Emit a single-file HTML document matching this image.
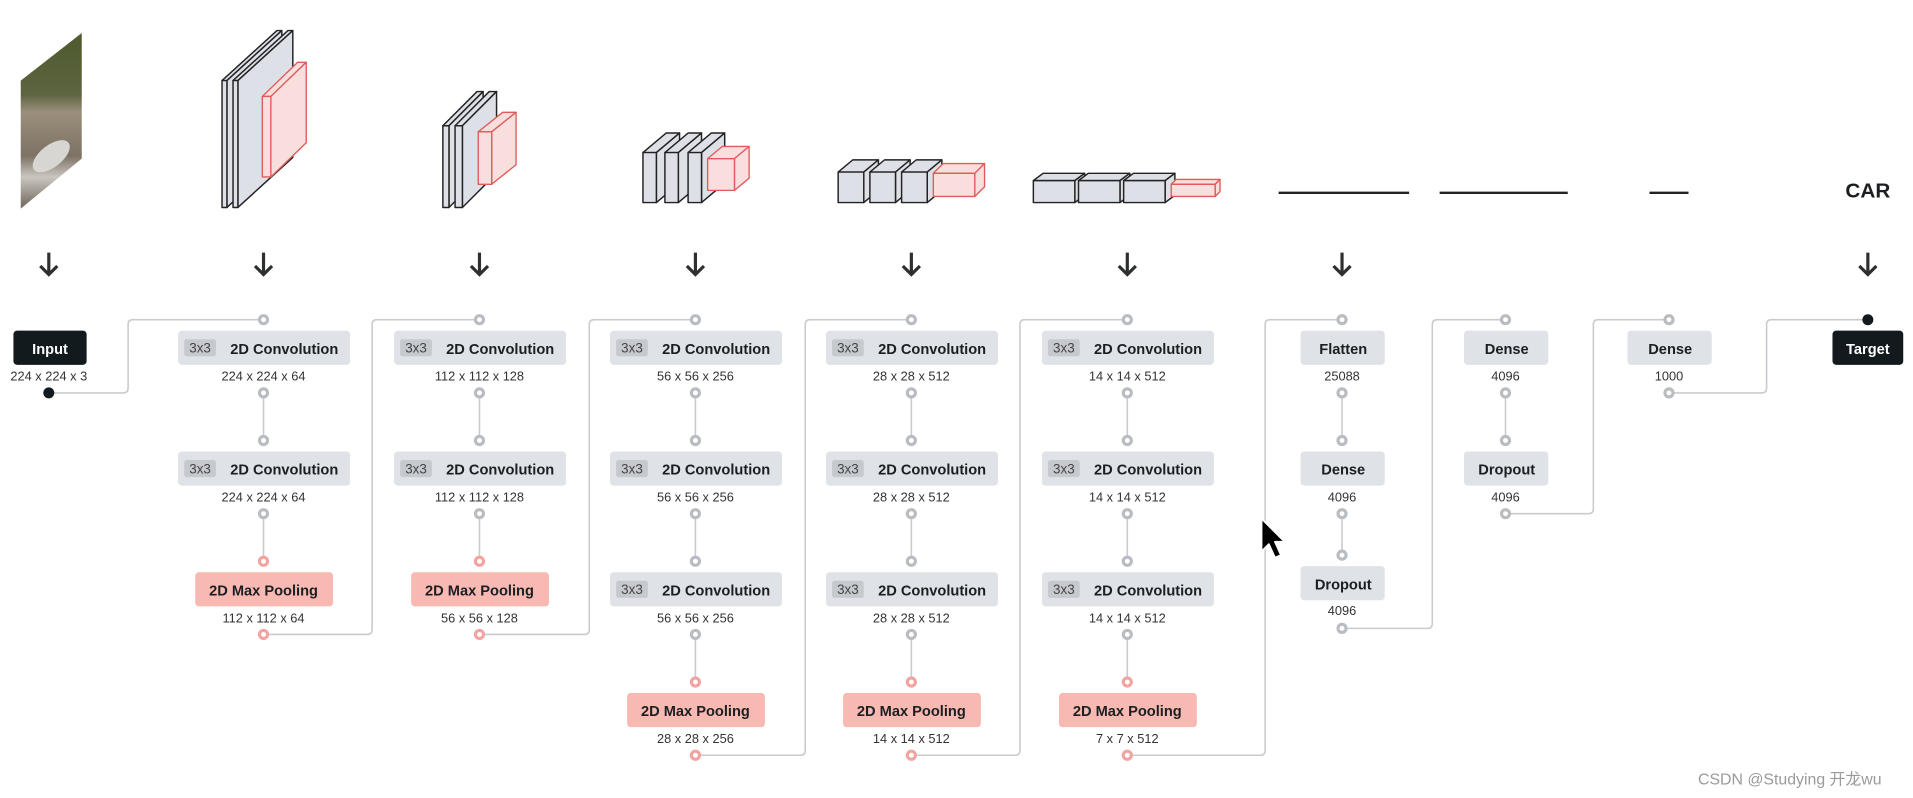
<!DOCTYPE html>
<html><head><meta charset="utf-8"><style>
html,body{margin:0;padding:0;background:#fff;width:1913px;height:798px;overflow:hidden}
svg{display:block}
text{font-family:"Liberation Sans","Noto Sans CJK SC",sans-serif}
.lb{font-size:12px;font-weight:bold;fill:#1b1f22;text-anchor:middle}
.dm{font-size:10.5px;fill:#333;text-anchor:middle}
.tg{font-size:11px;fill:#444;text-anchor:middle}
.cn{fill:none;stroke:#c9cbce;stroke-width:1.3}
.dt{fill:#fff;stroke:#b9bcc0;stroke-width:2.6}
.dp{fill:#fff;stroke:#f3a3a0;stroke-width:2.6}
.g{fill:#dde1e7;stroke:#222;stroke-width:1.2;stroke-linejoin:round}
.r{fill:#f8dedc;stroke:#e05a5a;stroke-width:1.1;stroke-linejoin:round}
.ar{fill:none;stroke:#2d2f31;stroke-width:2.6}
</style></head><body>
<svg width="1913" height="798" viewBox="0 0 1568 654" xmlns="http://www.w3.org/2000/svg">
<defs>
<linearGradient id="img" x1="0" y1="0" x2="0" y2="1">
<stop offset="0" stop-color="#4e5a2e"/><stop offset="0.35" stop-color="#5d6440"/>
<stop offset="0.45" stop-color="#9b8f7c"/><stop offset="0.7" stop-color="#7d7264"/>
<stop offset="0.82" stop-color="#c9c6c0"/><stop offset="1" stop-color="#6e655a"/>
</linearGradient>
</defs>
<!-- input image -->
<polygon points="17,66 67,27 67,130 17,171" fill="url(#img)"/>
<ellipse cx="42" cy="128" rx="18" ry="9" fill="#d8d6d2" transform="rotate(-38 42 128)"/>

<g id="blocks"></g>
<!-- conv1 -->
<g>
<polygon class="g" points="182,66 227,25 231,25 186,66"/><polygon class="g" points="186,66 231,25 231,129 186,170"/><rect class="g" x="182" y="66" width="4" height="104"/>
<polygon class="g" points="191,66 236,25 240,25 195,66"/><polygon class="g" points="195,66 240,25 240,129 195,170"/><rect class="g" x="191" y="66" width="4" height="104"/>
<polygon class="r" points="215,79 244,51 251,51 222,79"/><polygon class="r" points="222,79 251,51 251,117 222,145"/><rect class="r" x="215" y="79" width="7" height="66"/>
</g>
<!-- conv2 -->
<g>
<polygon class="g" points="363,103 391,75 396,75 368,103"/><polygon class="g" points="368,103 396,75 396,142 368,170"/><rect class="g" x="363" y="103" width="5" height="67"/>
<polygon class="g" points="373,103 401,75 407,75 379,103"/><polygon class="g" points="379,103 407,75 407,142 379,170"/><rect class="g" x="373" y="103" width="6" height="67"/>
<polygon class="r" points="392,108 412,92 423,92 403,108"/><polygon class="r" points="403,108 423,92 423,135 403,151"/><rect class="r" x="392" y="108" width="11" height="43"/>
</g>
<!-- conv3 -->
<g>
<polygon class="g" points="527,125 546,109 557,109 538,125"/><polygon class="g" points="538,125 557,109 557,150 538,166"/><rect class="g" x="527" y="125" width="11" height="41"/>
<polygon class="g" points="545,125 564,109 575,109 556,125"/><polygon class="g" points="556,125 575,109 575,150 556,166"/><rect class="g" x="545" y="125" width="11" height="41"/>
<polygon class="g" points="564,125 583,109 594,109 575,125"/><polygon class="g" points="575,125 594,109 594,150 575,166"/><rect class="g" x="564" y="125" width="11" height="41"/>
<polygon class="r" points="580,130 592,120 614,120 602,130"/><polygon class="r" points="602,130 614,120 614,146 602,156"/><rect class="r" x="580" y="130" width="22" height="26"/>
</g>
<!-- conv4 -->
<g>
<polygon class="g" points="687,141 699,131 720,131 708,141"/><polygon class="g" points="708,141 720,131 720,156 708,166"/><rect class="g" x="687" y="141" width="21" height="25"/>
<polygon class="g" points="713,141 725,131 746,131 734,141"/><polygon class="g" points="734,141 746,131 746,156 734,166"/><rect class="g" x="713" y="141" width="21" height="25"/>
<polygon class="g" points="739,141 751,131 772,131 760,141"/><polygon class="g" points="760,141 772,131 772,156 760,166"/><rect class="g" x="739" y="141" width="21" height="25"/>
<polygon class="r" points="765,142 773,134 807,134 799,142"/><polygon class="r" points="799,142 807,134 807,153 799,161"/><rect class="r" x="765" y="142" width="34" height="19"/>
</g>
<!-- conv5 -->
<g>
<polygon class="g" points="847,148 855,142 889,142 881,148"/><polygon class="g" points="881,148 889,142 889,160 881,166"/><rect class="g" x="847" y="148" width="34" height="18"/>
<polygon class="g" points="884,148 892,142 926,142 918,148"/><polygon class="g" points="918,148 926,142 926,160 918,166"/><rect class="g" x="884" y="148" width="34" height="18"/>
<polygon class="g" points="921,148 929,142 963,142 955,148"/><polygon class="g" points="955,148 963,142 963,160 955,166"/><rect class="g" x="921" y="148" width="34" height="18"/>
<polygon class="r" points="960,151 964,147 1000,147 996,151"/><polygon class="r" points="996,151 1000,147 1000,157 996,161"/><rect class="r" x="960" y="151" width="36" height="10"/>
</g>
<!-- dense lines -->
<line x1="1048" y1="158" x2="1155" y2="158" stroke="#222" stroke-width="2"/>
<line x1="1180" y1="158" x2="1285" y2="158" stroke="#222" stroke-width="2"/>
<line x1="1352" y1="158" x2="1384" y2="158" stroke="#222" stroke-width="2"/>
<text x="1531" y="162" font-size="17" font-weight="bold" fill="#1b1f22" text-anchor="middle">CAR</text>

<!-- arrows -->
<g class="ar">
<path d="M40,207 V225 M33,218 L40,225 L47,218"/>
<path d="M216,207 V225 M209,218 L216,225 L223,218"/>
<path d="M393,207 V225 M386,218 L393,225 L400,218"/>
<path d="M570,207 V225 M563,218 L570,225 L577,218"/>
<path d="M747,207 V225 M740,218 L747,225 L754,218"/>
<path d="M924,207 V225 M917,218 L924,225 L931,218"/>
<path d="M1100,207 V225 M1093,218 L1100,225 L1107,218"/>
<path d="M1531,207 V225 M1524,218 L1531,225 L1538,218"/>
</g>

<!-- connectors -->
<g class="cn">
<path d="M40,322 H101 Q105,322 105,318 V266 Q105,262 109,262 H216"/>
<path d="M216,520 H301 Q305,520 305,516 V266 Q305,262 309,262 H393"/>
<path d="M393,520 H479 Q483,520 483,516 V266 Q483,262 487,262 H570"/>
<path d="M570,619 H656 Q660,619 660,615 V266 Q660,262 664,262 H747"/>
<path d="M747,619 H832 Q836,619 836,615 V266 Q836,262 840,262 H924"/>
<path d="M924,619 H1033 Q1037,619 1037,615 V266 Q1037,262 1041,262 H1100"/>
<path d="M1100,515 H1170 Q1174,515 1174,511 V266 Q1174,262 1178,262 H1234"/>
<path d="M1234,421 H1302 Q1306,421 1306,417 V266 Q1306,262 1310,262 H1368"/>
<path d="M1368,322 H1444 Q1448,322 1448,318 V266 Q1448,262 1452,262 H1531"/>
<path d="M216,322 V361 M216,421 V460 M393,322 V361 M393,421 V460 M570,322 V361 M570,421 V460 M570,520 V559 M747,322 V361 M747,421 V460 M747,520 V559 M924,322 V361 M924,421 V460 M924,520 V559 M1100,322 V361 M1100,421 V455 M1234,322 V361"/>
</g>

<!-- boxes helper: conv -->
<g id="convs">
<!-- col 216 -->
<rect x="146" y="271" width="141" height="28" rx="3" fill="#dfe2e7"/><rect x="151" y="278" width="26" height="14" rx="2" fill="#c6cacf"/><text class="tg" x="164" y="289">3x3</text><text class="lb" x="233" y="290">2D Convolution</text>
<rect x="146" y="370" width="141" height="28" rx="3" fill="#dfe2e7"/><rect x="151" y="377" width="26" height="14" rx="2" fill="#c6cacf"/><text class="tg" x="164" y="388">3x3</text><text class="lb" x="233" y="389">2D Convolution</text>
<rect x="160" y="469" width="113" height="28" rx="3" fill="#f9b9b3"/><text class="lb" x="216" y="488">2D Max Pooling</text>
<!-- col 393 -->
<rect x="323" y="271" width="141" height="28" rx="3" fill="#dfe2e7"/><rect x="328" y="278" width="26" height="14" rx="2" fill="#c6cacf"/><text class="tg" x="341" y="289">3x3</text><text class="lb" x="410" y="290">2D Convolution</text>
<rect x="323" y="370" width="141" height="28" rx="3" fill="#dfe2e7"/><rect x="328" y="377" width="26" height="14" rx="2" fill="#c6cacf"/><text class="tg" x="341" y="388">3x3</text><text class="lb" x="410" y="389">2D Convolution</text>
<rect x="337" y="469" width="113" height="28" rx="3" fill="#f9b9b3"/><text class="lb" x="393" y="488">2D Max Pooling</text>
<!-- col 570 -->
<rect x="500" y="271" width="141" height="28" rx="3" fill="#dfe2e7"/><rect x="505" y="278" width="26" height="14" rx="2" fill="#c6cacf"/><text class="tg" x="518" y="289">3x3</text><text class="lb" x="587" y="290">2D Convolution</text>
<rect x="500" y="370" width="141" height="28" rx="3" fill="#dfe2e7"/><rect x="505" y="377" width="26" height="14" rx="2" fill="#c6cacf"/><text class="tg" x="518" y="388">3x3</text><text class="lb" x="587" y="389">2D Convolution</text>
<rect x="500" y="469" width="141" height="28" rx="3" fill="#dfe2e7"/><rect x="505" y="476" width="26" height="14" rx="2" fill="#c6cacf"/><text class="tg" x="518" y="487">3x3</text><text class="lb" x="587" y="488">2D Convolution</text>
<rect x="514" y="568" width="113" height="28" rx="3" fill="#f9b9b3"/><text class="lb" x="570" y="587">2D Max Pooling</text>
<!-- col 747 -->
<rect x="677" y="271" width="141" height="28" rx="3" fill="#dfe2e7"/><rect x="682" y="278" width="26" height="14" rx="2" fill="#c6cacf"/><text class="tg" x="695" y="289">3x3</text><text class="lb" x="764" y="290">2D Convolution</text>
<rect x="677" y="370" width="141" height="28" rx="3" fill="#dfe2e7"/><rect x="682" y="377" width="26" height="14" rx="2" fill="#c6cacf"/><text class="tg" x="695" y="388">3x3</text><text class="lb" x="764" y="389">2D Convolution</text>
<rect x="677" y="469" width="141" height="28" rx="3" fill="#dfe2e7"/><rect x="682" y="476" width="26" height="14" rx="2" fill="#c6cacf"/><text class="tg" x="695" y="487">3x3</text><text class="lb" x="764" y="488">2D Convolution</text>
<rect x="691" y="568" width="113" height="28" rx="3" fill="#f9b9b3"/><text class="lb" x="747" y="587">2D Max Pooling</text>
<!-- col 924 -->
<rect x="854" y="271" width="141" height="28" rx="3" fill="#dfe2e7"/><rect x="859" y="278" width="26" height="14" rx="2" fill="#c6cacf"/><text class="tg" x="872" y="289">3x3</text><text class="lb" x="941" y="290">2D Convolution</text>
<rect x="854" y="370" width="141" height="28" rx="3" fill="#dfe2e7"/><rect x="859" y="377" width="26" height="14" rx="2" fill="#c6cacf"/><text class="tg" x="872" y="388">3x3</text><text class="lb" x="941" y="389">2D Convolution</text>
<rect x="854" y="469" width="141" height="28" rx="3" fill="#dfe2e7"/><rect x="859" y="476" width="26" height="14" rx="2" fill="#c6cacf"/><text class="tg" x="872" y="487">3x3</text><text class="lb" x="941" y="488">2D Convolution</text>
<rect x="868" y="568" width="113" height="28" rx="3" fill="#f9b9b3"/><text class="lb" x="924" y="587">2D Max Pooling</text>
</g>
<!-- dense boxes -->
<rect x="1066" y="271" width="69" height="28" rx="3" fill="#dfe2e7"/><text class="lb" x="1101" y="290">Flatten</text>
<rect x="1066" y="370" width="69" height="28" rx="3" fill="#dfe2e7"/><text class="lb" x="1101" y="389">Dense</text>
<rect x="1066" y="464" width="69" height="28" rx="3" fill="#dfe2e7"/><text class="lb" x="1101" y="483">Dropout</text>
<rect x="1200" y="271" width="69" height="28" rx="3" fill="#dfe2e7"/><text class="lb" x="1235" y="290">Dense</text>
<rect x="1200" y="370" width="69" height="28" rx="3" fill="#dfe2e7"/><text class="lb" x="1235" y="389">Dropout</text>
<rect x="1334" y="271" width="69" height="28" rx="3" fill="#dfe2e7"/><text class="lb" x="1369" y="290">Dense</text>
<rect x="11" y="271" width="60" height="28" rx="3" fill="#121a1e"/><text class="lb" x="41" y="290" style="fill:#fff">Input</text>
<rect x="1502" y="271" width="58" height="28" rx="3" fill="#121a1e"/><text class="lb" x="1531" y="290" style="fill:#fff">Target</text>

<!-- dims -->
<text class="dm" x="40" y="312">224 x 224 x 3</text>
<text class="dm" x="216" y="312">224 x 224 x 64</text><text class="dm" x="216" y="411">224 x 224 x 64</text><text class="dm" x="216" y="510">112 x 112 x 64</text>
<text class="dm" x="393" y="312">112 x 112 x 128</text><text class="dm" x="393" y="411">112 x 112 x 128</text><text class="dm" x="393" y="510">56 x 56 x 128</text>
<text class="dm" x="570" y="312">56 x 56 x 256</text><text class="dm" x="570" y="411">56 x 56 x 256</text><text class="dm" x="570" y="510">56 x 56 x 256</text><text class="dm" x="570" y="609">28 x 28 x 256</text>
<text class="dm" x="747" y="312">28 x 28 x 512</text><text class="dm" x="747" y="411">28 x 28 x 512</text><text class="dm" x="747" y="510">28 x 28 x 512</text><text class="dm" x="747" y="609">14 x 14 x 512</text>
<text class="dm" x="924" y="312">14 x 14 x 512</text><text class="dm" x="924" y="411">14 x 14 x 512</text><text class="dm" x="924" y="510">14 x 14 x 512</text><text class="dm" x="924" y="609">7 x 7 x 512</text>
<text class="dm" x="1100" y="312">25088</text><text class="dm" x="1100" y="411">4096</text><text class="dm" x="1100" y="504">4096</text>
<text class="dm" x="1234" y="312">4096</text><text class="dm" x="1234" y="411">4096</text>
<text class="dm" x="1368" y="312">1000</text>

<!-- dots -->
<g class="dt">
<circle cx="216" cy="262" r="3.3"/><circle cx="216" cy="322" r="3.3"/><circle cx="216" cy="361" r="3.3"/><circle cx="216" cy="421" r="3.3"/>
<circle cx="393" cy="262" r="3.3"/><circle cx="393" cy="322" r="3.3"/><circle cx="393" cy="361" r="3.3"/><circle cx="393" cy="421" r="3.3"/>
<circle cx="570" cy="262" r="3.3"/><circle cx="570" cy="322" r="3.3"/><circle cx="570" cy="361" r="3.3"/><circle cx="570" cy="421" r="3.3"/><circle cx="570" cy="460" r="3.3"/><circle cx="570" cy="520" r="3.3"/>
<circle cx="747" cy="262" r="3.3"/><circle cx="747" cy="322" r="3.3"/><circle cx="747" cy="361" r="3.3"/><circle cx="747" cy="421" r="3.3"/><circle cx="747" cy="460" r="3.3"/><circle cx="747" cy="520" r="3.3"/>
<circle cx="924" cy="262" r="3.3"/><circle cx="924" cy="322" r="3.3"/><circle cx="924" cy="361" r="3.3"/><circle cx="924" cy="421" r="3.3"/><circle cx="924" cy="460" r="3.3"/><circle cx="924" cy="520" r="3.3"/>
<circle cx="1100" cy="262" r="3.3"/><circle cx="1100" cy="322" r="3.3"/><circle cx="1100" cy="361" r="3.3"/><circle cx="1100" cy="421" r="3.3"/><circle cx="1100" cy="455" r="3.3"/><circle cx="1100" cy="515" r="3.3"/>
<circle cx="1234" cy="262" r="3.3"/><circle cx="1234" cy="322" r="3.3"/><circle cx="1234" cy="361" r="3.3"/><circle cx="1234" cy="421" r="3.3"/>
<circle cx="1368" cy="262" r="3.3"/><circle cx="1368" cy="322" r="3.3"/>
</g>
<g class="dp">
<circle cx="216" cy="460" r="3.3"/><circle cx="216" cy="520" r="3.3"/>
<circle cx="393" cy="460" r="3.3"/><circle cx="393" cy="520" r="3.3"/>
<circle cx="570" cy="559" r="3.3"/><circle cx="570" cy="619" r="3.3"/>
<circle cx="747" cy="559" r="3.3"/><circle cx="747" cy="619" r="3.3"/>
<circle cx="924" cy="559" r="3.3"/><circle cx="924" cy="619" r="3.3"/>
</g>
<circle cx="40" cy="322" r="4.5" fill="#121a1e"/>
<circle cx="1531" cy="262" r="4.5" fill="#121a1e"/>

<!-- cursor -->
<polygon points="1034,425 1034,452 1040,446 1045,457 1050,455 1045,444 1053,444" fill="#000" stroke="#fff" stroke-width="1.5" stroke-linejoin="round"/>

<text x="1467" y="643" font-size="13" fill="#9a9a9a" text-anchor="middle">CSDN @Studying 开龙wu</text>
</svg>
</body></html>
